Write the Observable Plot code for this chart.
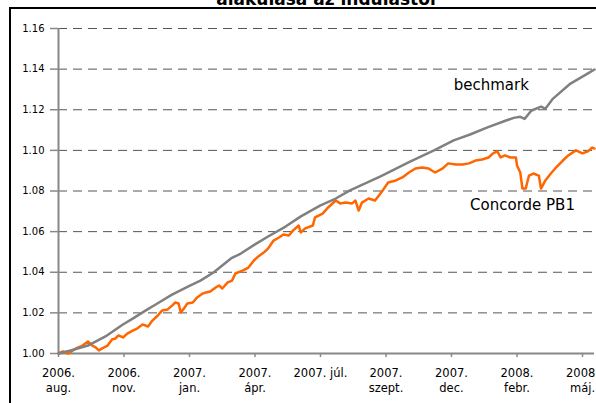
<!DOCTYPE html>
<html><head><meta charset="utf-8">
<script src="https://cdn.jsdelivr.net/npm/d3@7"></script>
<script src="https://cdn.jsdelivr.net/npm/@observablehq/plot@0.6"></script>
<style>
body{margin:0;background:#fff;}
#wrap{position:relative;width:596px;height:403px;overflow:hidden;background:#fff;font-family:"DejaVu Sans",Verdana,sans-serif;}
#chart{position:absolute;left:0;top:0;}
#frame{position:absolute;left:9px;top:7px;width:700px;height:500px;border:2px solid #000;box-sizing:border-box;pointer-events:none;}
#title{position:absolute;left:0;top:0;}
</style>
</head><body>
<div id="wrap">
  <div id="frame"></div>
  <div id="chart"></div>
  <svg id="title" width="596" height="12"><text x="326" y="5" text-anchor="middle" font-family="DejaVu Sans" font-weight="bold" font-size="17">alakulása az indulástól</text></svg>
</div>
<script>
// x = trading-day index since launch (2006 aug.)
const xTicks = [0, 60, 120, 180, 240, 300, 360, 420, 480];
const xTickLabels = ["2006.\naug.", "2006.\nnov.", "2007.\njan.", "2007.\nápr.", "2007. júl.", "2007.\nszept.", "2007.\ndec.", "2008.\nfebr.", "2008.\nmáj."];
const yTicks = [1.00, 1.02, 1.04, 1.06, 1.08, 1.10, 1.12, 1.14, 1.16];

const benchIdx = [0, 11, 27, 43, 59, 68, 80, 89, 104, 119, 130, 142, 158, 167, 180, 192, 208, 222, 240, 254, 267, 281, 295, 306, 322, 344, 362, 377, 393, 410, 417, 423, 427, 433, 442, 446, 453, 469, 485, 491];
const benchVal = [1.0000, 1.0015, 1.0039, 1.0084, 1.0143, 1.0172, 1.0212, 1.0241, 1.0290, 1.0330, 1.0359, 1.0399, 1.0468, 1.0492, 1.0537, 1.0576, 1.0625, 1.0675, 1.0729, 1.0763, 1.0803, 1.0837, 1.0872, 1.0901, 1.0945, 1.1000, 1.1049, 1.1078, 1.1113, 1.1147, 1.1160, 1.1165, 1.1155, 1.1195, 1.1215, 1.1205, 1.1255, 1.1329, 1.1379, 1.1398];

const pbIdx = [0, 4, 9, 16, 22, 27, 31, 34, 37, 40, 45, 49, 52, 55, 59, 63, 68, 72, 77, 82, 86, 91, 95, 100, 104, 107, 110, 112, 115, 118, 123, 127, 132, 135, 139, 144, 147, 150, 155, 159, 162, 169, 174, 179, 183, 188, 192, 197, 202, 206, 211, 215, 220, 222, 226, 233, 235, 242, 247, 254, 258, 263, 269, 272, 275, 278, 284, 290, 297, 302, 309, 315, 321, 327, 333, 339, 345, 352, 357, 364, 370, 376, 382, 388, 394, 398, 402, 405, 409, 414, 419, 420, 423, 425, 428, 431, 435, 440, 442, 446, 451, 455, 462, 467, 474, 480, 485, 489, 491];
const pbVal = [1.0000, 1.0010, 1.0000, 1.0025, 1.0039, 1.0059, 1.0039, 1.0030, 1.0015, 1.0025, 1.0039, 1.0069, 1.0074, 1.0089, 1.0079, 1.0098, 1.0113, 1.0123, 1.0143, 1.0133, 1.0162, 1.0187, 1.0212, 1.0217, 1.0236, 1.0251, 1.0246, 1.0202, 1.0222, 1.0246, 1.0251, 1.0276, 1.0295, 1.0300, 1.0305, 1.0325, 1.0335, 1.0320, 1.0350, 1.0359, 1.0394, 1.0409, 1.0423, 1.0458, 1.0478, 1.0497, 1.0517, 1.0556, 1.0571, 1.0586, 1.0581, 1.0606, 1.0630, 1.0596, 1.0616, 1.0630, 1.0670, 1.0689, 1.0719, 1.0753, 1.0739, 1.0743, 1.0739, 1.0753, 1.0704, 1.0743, 1.0763, 1.0753, 1.0803, 1.0842, 1.0852, 1.0867, 1.0891, 1.0911, 1.0916, 1.0911, 1.0891, 1.0911, 1.0936, 1.0931, 1.0931, 1.0936, 1.0950, 1.0955, 1.0965, 1.0985, 1.0995, 1.0965, 1.0975, 1.0965, 1.0965, 1.0926, 1.0891, 1.0812, 1.0812, 1.0876, 1.0886, 1.0876, 1.0812, 1.0852, 1.0886, 1.0911, 1.0950, 1.0975, 1.1000, 1.0985, 1.0995, 1.1014, 1.1009];

const seriesNames = ["bechmark", "Concorde PB1"];
const labelIdx = [362, 377];
const labelVal = [1.132, 1.0731];

const bench = benchIdx.map((x, i) => ({x, y: benchVal[i]}));
const pb = pbIdx.map((x, i) => ({x, y: pbVal[i]}));
const labels = seriesNames.map((name, i) => ({name, x: labelIdx[i], y: labelVal[i]}));

const chart = Plot.plot({
  width: 596,
  height: 403,
  marginTop: 28,
  marginBottom: 50,
  marginLeft: 58,
  marginRight: 2,
  style: {fontFamily: "DejaVu Sans, Verdana, sans-serif", background: "transparent", color: "#000"},
  x: {domain: [0, 491]},
  y: {domain: [1.0, 1.16]},
  marks: [
    Plot.ruleY(yTicks.slice(1), {stroke: "#555", strokeWidth: 1, strokeDasharray: "9,6"}),
    Plot.axisY({ticks: yTicks, tickFormat: d => d.toFixed(2), tickSize: 8, tickPadding: 6, fontSize: 10, stroke: "#888", strokeWidth: 1.5, fill: "#000", label: null}),
    Plot.axisX({ticks: xTicks, tickFormat: d => xTickLabels[xTicks.indexOf(d)], tickSize: 4, tickPadding: 9, fontSize: 11.5, lineHeight: 1.3, stroke: "#888", strokeWidth: 1.5, fill: "#000", label: null}),
    Plot.ruleX([0], {stroke: "#888", strokeWidth: 2}),
    Plot.ruleY([1], {stroke: "#888", strokeWidth: 2}),
    Plot.line(pb, {x: "x", y: "y", stroke: "#ff6600", strokeWidth: 2.5}),
    Plot.line(bench, {x: "x", y: "y", stroke: "#808080", strokeWidth: 2.5}),
    Plot.text(labels, {x: "x", y: "y", text: "name", textAnchor: "start", fontSize: 15, fill: "#000"})
  ]
});
document.getElementById("chart").appendChild(chart);
</script>
</body></html>
